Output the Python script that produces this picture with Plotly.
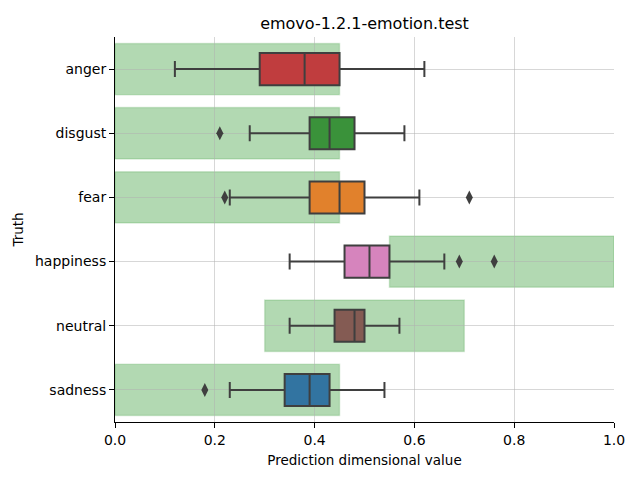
import plotly.graph_objects as go

categories = ["anger", "disgust", "fear", "happiness", "neutral", "sadness"]
box_colors = ["#C03D3E", "#3A923A", "#E1812C", "#D684BD", "#845B53", "#3274A1"]
lower_whisker = [0.12, 0.27, 0.23, 0.35, 0.35, 0.23]
q1 = [0.29, 0.39, 0.39, 0.46, 0.44, 0.34]
median = [0.38, 0.43, 0.45, 0.51, 0.48, 0.39]
q3 = [0.45, 0.48, 0.50, 0.55, 0.50, 0.43]
upper_whisker = [0.62, 0.58, 0.61, 0.66, 0.57, 0.54]
outliers = [[], [0.21], [0.22, 0.71], [0.69, 0.76], [], [0.18]]
range_low = [0.0, 0.0, 0.0, 0.55, 0.30, 0.0]
range_high = [0.45, 0.45, 0.45, 1.0, 0.70, 0.45]
x_ticks = [0.0, 0.2, 0.4, 0.6, 0.8, 1.0]

line_col = "#3f3f3f"
fig = go.Figure()

shapes = []
for i, cat in enumerate(categories):
    shapes.append(dict(type="rect", xref="x", yref="y",
                       x0=range_low[i], x1=range_high[i], y0=i - 0.4, y1=i + 0.4,
                       fillcolor="rgba(0,128,0,0.3)",
                       line=dict(color="rgba(0,128,0,0.15)", width=1.5),
                       layer="below"))
    fig.add_trace(go.Box(
        orientation="h", y=[i], q1=[q1[i]], median=[median[i]], q3=[q3[i]],
        lowerfence=[lower_whisker[i]], upperfence=[upper_whisker[i]],
        width=0.5, whiskerwidth=0.5, fillcolor=box_colors[i],
        line=dict(color=line_col, width=2), boxpoints=False,
        showlegend=False, hoverinfo="skip"))
    if outliers[i]:
        fig.add_trace(go.Scatter(
            x=outliers[i], y=[i] * len(outliers[i]), mode="markers",
            marker=dict(symbol="diamond-tall", size=10, color=line_col),
            showlegend=False, hoverinfo="skip"))

# page body has an 8px offset; compensate in margins
fig.update_layout(
    width=640, height=480,
    margin=dict(l=107, r=34, t=29, b=66),
    paper_bgcolor="white", plot_bgcolor="white",
    font=dict(family="DejaVu Sans", size=14, color="black"),
    title=dict(text="emovo-1.2.1-emotion.test", xref="paper", x=0.5, xanchor="center",
               y=1 - 15 / 480, yanchor="middle", font=dict(size=16)),
    shapes=shapes,
)
fig.update_xaxes(range=[0, 1], tickvals=x_ticks, ticktext=[f"{v:.1f}" for v in x_ticks],
                 showgrid=True, gridcolor="rgba(176,176,176,0.5)", gridwidth=1,
                 showline=True, linecolor="black", linewidth=1,
                 ticks="outside", ticklen=5, tickcolor="black", automargin=False,
                 zeroline=False, layer="above traces", tickfont=dict(size=14),
                 title=dict(text="Prediction dimensional value", font=dict(size=13.5), standoff=8))
fig.update_yaxes(range=[5.5, -0.5], tickvals=list(range(len(categories))), ticktext=categories,
                 showgrid=True, gridcolor="rgba(176,176,176,0.5)", gridwidth=1,
                 showline=True, linecolor="black", linewidth=1,
                 ticks="outside", ticklen=5, tickcolor="black", automargin=False,
                 zeroline=False, layer="above traces", tickfont=dict(size=14),
                 title=dict(text="Truth", font=dict(size=13.5), standoff=8))

fig.write_html("out.html")
